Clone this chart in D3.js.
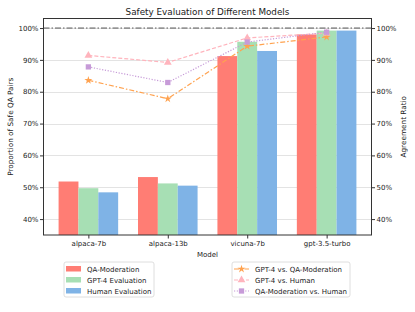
<!DOCTYPE html>
<html>
<head>
<meta charset="utf-8">
<script src="https://cdn.jsdelivr.net/npm/d3@7"></script>
<style>
	body { margin: 0; background: #fff; }
	text { font-family: "DejaVu Sans", sans-serif; fill: #222; }
</style>
</head>
<body>
<svg id="chart" width="415" height="312"></svg>
<script>
var models = ["alpaca-7b", "alpaca-13b", "vicuna-7b", "gpt-3.5-turbo"];

var barSeries = ["QA-Moderation", "GPT-4 Evaluation", "Human Evaluation"];
var qaModeration = [51.8, 53.2, 91.2, 98.0];
var gpt4Evaluation = [49.7, 51.2, 95.7, 99.2];
var humanEvaluation = [48.4, 50.5, 92.8, 99.2];

var lineSeries = ["GPT-4 vs. QA-Moderation", "GPT-4 vs. Human", "QA-Moderation vs. Human"];
var gpt4VsQa = [83.6, 77.8, 94.3, 97.2];
var gpt4VsHuman = [91.4, 89.2, 96.9, 98.4];
var qaVsHuman = [87.8, 82.9, 95.6, 98.7];

var yTicks = [40, 50, 60, 70, 80, 90, 100];

var barColors = ["#ff7d74", "#a7dfb4", "#7fb3e6"];
var lineColors = ["#ffa24f", "#ffb4bd", "#c79bd8"];
var lineDash = ["5,2,1.5,2", "4,2", "1.2,1.6"];
var lineSymbols = [d3.symbolStar, d3.symbolTriangle, d3.symbolSquare];
var symbolSizes = [20, 26, 28];

var barData = [qaModeration, gpt4Evaluation, humanEvaluation];
var lineData = [gpt4VsQa, gpt4VsHuman, qaVsHuman];

var svg = d3.select("#chart");
var margin = {left: 43.5, right: 371.5, top: 18.5, bottom: 235};

var x = d3.scalePoint().domain(models).range([margin.left, margin.right]).padding(0.565);
var step = x.step();
var xs = d3.scaleBand().domain(barSeries).range([-step * 0.375, step * 0.375]);
var y = d3.scaleLinear().domain([35, 103]).range([margin.bottom, margin.top]);

// grid
svg.append("g").selectAll("line")
	.data(yTicks)
	.enter().append("line")
		.attr("x1", margin.left).attr("x2", margin.right)
		.attr("y1", function(d) { return Math.round(y(d)) + 0.5; })
		.attr("y2", function(d) { return Math.round(y(d)) + 0.5; })
		.attr("stroke", "#e3e3e3")
		.attr("stroke-width", 1);

// bars
barData.forEach(function(vals, i) {
	svg.append("g").selectAll("rect")
		.data(vals)
		.enter().append("rect")
			.attr("x", function(d, j) { return x(models[j]) + xs(barSeries[i]); })
			.attr("width", xs.bandwidth())
			.attr("y", function(d) { return y(d); })
			.attr("height", function(d) { return margin.bottom - y(d); })
			.attr("fill", barColors[i]);
});

// 100% reference line
svg.append("line")
	.attr("x1", margin.left).attr("x2", margin.right)
	.attr("y1", y(100)).attr("y2", y(100))
	.attr("stroke", "#555")
	.attr("stroke-width", 1)
	.attr("stroke-dasharray", "6,2,1.5,2");

// agreement lines
var line = d3.line()
	.x(function(d, j) { return x(models[j]); })
	.y(function(d) { return y(d); });

lineData.forEach(function(vals, i) {
	svg.append("path")
		.datum(vals)
		.attr("d", line)
		.attr("fill", "none")
		.attr("stroke", lineColors[i])
		.attr("stroke-width", 1.2)
		.attr("stroke-dasharray", lineDash[i]);
	svg.append("g").selectAll("path")
		.data(vals)
		.enter().append("path")
			.attr("transform", function(d, j) { return "translate(" + x(models[j]) + "," + y(d) + ")"; })
			.attr("d", d3.symbol().type(lineSymbols[i]).size(symbolSizes[i]))
			.attr("fill", lineColors[i]);
});

// axes
var yLeft = d3.axisLeft(y).tickValues(yTicks).tickSize(3.5).tickFormat(function(d) { return d + "%"; });
var yRight = d3.axisRight(y).tickValues(yTicks).tickSize(3.5).tickFormat(function(d) { return d + "%"; });
var xAxis = d3.axisBottom(x).tickSize(3.5);

function styleAxis(g) {
	g.select(".domain").remove();
	g.selectAll("line").attr("stroke", "#333");
	g.selectAll("text").attr("font-size", 7).attr("fill", "#222").style("font-family", "DejaVu Sans");
}

svg.append("g").attr("transform", "translate(" + margin.left + ",0)").call(yLeft).call(styleAxis)
	.selectAll("text").attr("x", -5);
svg.append("g").attr("transform", "translate(" + margin.right + ",0)").call(yRight).call(styleAxis)
	.selectAll("text").attr("x", 5);
svg.append("g").attr("transform", "translate(0," + margin.bottom + ")").call(xAxis).call(styleAxis)
	.selectAll("text").attr("y", 6);

// frame
svg.append("rect")
	.attr("x", margin.left).attr("y", margin.top)
	.attr("width", margin.right - margin.left)
	.attr("height", margin.bottom - margin.top)
	.attr("fill", "none")
	.attr("stroke", "#333")
	.attr("stroke-width", 1);

// labels
svg.append("text")
	.attr("x", (margin.left + margin.right) / 2).attr("y", 15)
	.attr("text-anchor", "middle").attr("font-size", 8.8)
	.text("Safety Evaluation of Different Models");
svg.append("text")
	.attr("x", (margin.left + margin.right) / 2).attr("y", 257)
	.attr("text-anchor", "middle").attr("font-size", 7)
	.text("Model");
svg.append("text")
	.attr("transform", "translate(13," + (margin.top + margin.bottom) / 2 + ") rotate(-90)")
	.attr("text-anchor", "middle").attr("font-size", 7.3)
	.text("Proportion of Safe QA Pairs");
svg.append("text")
	.attr("transform", "translate(406," + (margin.top + margin.bottom) / 2 + ") rotate(-90)")
	.attr("text-anchor", "middle").attr("font-size", 7.3)
	.text("Agreement Ratio");

// legends
var legBars = svg.append("g").attr("transform", "translate(64,262)");
legBars.append("rect")
	.attr("width", 90).attr("height", 35).attr("rx", 2)
	.attr("fill", "#fff").attr("stroke", "#d6d6d6").attr("stroke-width", 0.8);
barSeries.forEach(function(name, i) {
	legBars.append("rect")
		.attr("x", 2).attr("y", 4 + i * 11).attr("width", 15).attr("height", 5.5)
		.attr("fill", barColors[i]);
	legBars.append("text")
		.attr("x", 23).attr("y", 9.5 + i * 11)
		.attr("font-size", 7)
		.text(name);
});

var legLines = svg.append("g").attr("transform", "translate(232,262)");
legLines.append("rect")
	.attr("width", 118).attr("height", 35).attr("rx", 2)
	.attr("fill", "#fff").attr("stroke", "#d6d6d6").attr("stroke-width", 0.8);
lineSeries.forEach(function(name, i) {
	var cy = 7 + i * 11;
	legLines.append("line")
		.attr("x1", 2).attr("x2", 17).attr("y1", cy).attr("y2", cy)
		.attr("stroke", lineColors[i]).attr("stroke-width", 1.2)
		.attr("stroke-dasharray", lineDash[i]);
	legLines.append("path")
		.attr("transform", "translate(9.5," + cy + ")")
		.attr("d", d3.symbol().type(lineSymbols[i]).size(symbolSizes[i]))
		.attr("fill", lineColors[i]);
	legLines.append("text")
		.attr("x", 23).attr("y", cy + 2.5)
		.attr("font-size", 7)
		.text(name);
});
</script>
</body>
</html>
